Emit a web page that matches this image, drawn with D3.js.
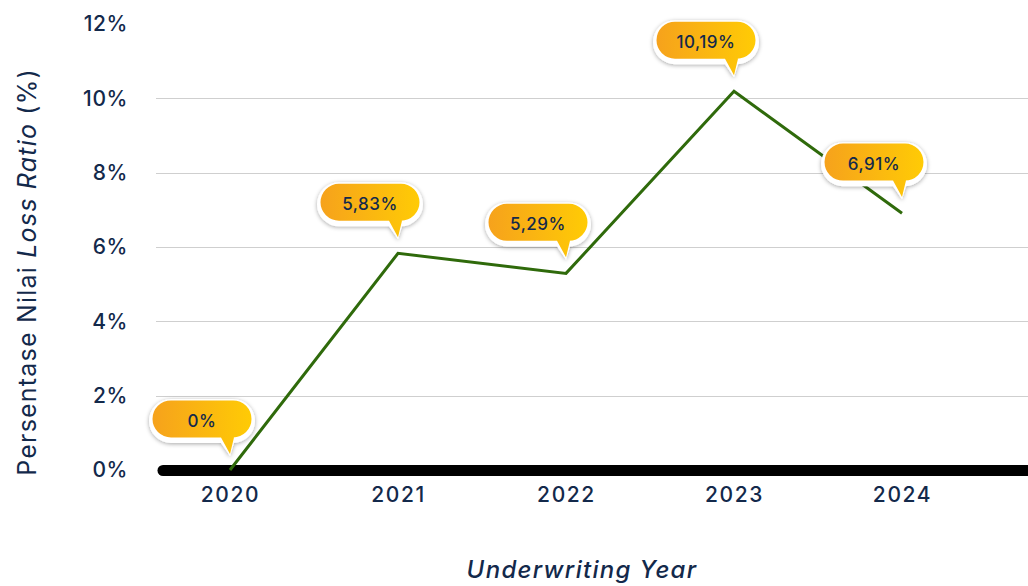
<!DOCTYPE html>
<html>
<head>
<meta charset="utf-8">
<script src="https://cdn.jsdelivr.net/npm/d3@7/dist/d3.min.js"></script>
<style>
  html, body { margin: 0; padding: 0; background: #fff; }
  svg { display: block; font-family: Inter, "Open Sans", sans-serif; }
</style>
</head>
<body>
<svg id="chart" width="1028" height="586"></svg>
<script>
// Loss ratio per underwriting year
const years = ["2020", "2021", "2022", "2023", "2024"];
const lossRatio = [0, 5.83, 5.29, 10.19, 6.91];
const valueLabels = ["0%", "5,83%", "5,29%", "10,19%", "6,91%"];
const yTicks = [0, 2, 4, 6, 8, 10, 12];

const W = 1028, H = 586;
const navy = "#13294b";
const svg = d3.select("#chart");

const x = d3.scalePoint().domain(years).range([146, 986]).padding(0.5);
const y = d3.scaleLinear().domain([0, 12]).range([470, 24]);

// gradient + shadow for the callouts
const defs = svg.append("defs");
const grad = defs.append("linearGradient").attr("id", "calloutFill")
  .attr("x1", "0%").attr("x2", "100%").attr("y1", "0%").attr("y2", "0%");
grad.append("stop").attr("offset", "0%").attr("stop-color", "#f6a21c");
grad.append("stop").attr("offset", "100%").attr("stop-color", "#ffcb05");
const sh = defs.append("filter").attr("id", "calloutShadow")
  .attr("x", "-20%").attr("y", "-30%").attr("width", "140%").attr("height", "170%");
sh.append("feDropShadow").attr("dx", 0).attr("dy", 1).attr("stdDeviation", 2.2)
  .attr("flood-color", "#000").attr("flood-opacity", 0.35);

// horizontal gridlines
svg.append("g").selectAll("line")
  .data(yTicks.filter(d => d > 0 && d < 12))
  .join("line")
  .attr("x1", 156).attr("x2", W)
  .attr("y1", d => Math.round(y(d)) + 0.5).attr("y2", d => Math.round(y(d)) + 0.5)
  .attr("stroke", "#cfcfcf").attr("stroke-width", 1);

// y axis labels
const yAxis = svg.append("g").attr("transform", "translate(128,0)")
  .call(d3.axisLeft(y).tickValues(yTicks).tickFormat(d => d + "%").tickSize(0).tickPadding(0));
yAxis.select(".domain").remove();
yAxis.selectAll("text")
  .attr("font-family", "Inter, sans-serif")
  .attr("font-size", 21).attr("font-weight", 500).attr("fill", navy)
  .attr("letter-spacing", 0.6);

// baseline
svg.append("line")
  .attr("x1", 163).attr("x2", W + 10)
  .attr("y1", y(0) + 0.5).attr("y2", y(0) + 0.5)
  .attr("stroke", "#000").attr("stroke-width", 11).attr("stroke-linecap", "round");

// x axis labels
const xAxis = svg.append("g").attr("transform", `translate(0,${y(0) + 17})`)
  .call(d3.axisBottom(x).tickSize(0).tickPadding(0));
xAxis.select(".domain").remove();
xAxis.selectAll("text")
  .attr("dy", "0.71em")
  .attr("font-family", "Inter, sans-serif")
  .attr("font-size", 21).attr("font-weight", 500).attr("fill", navy)
  .attr("letter-spacing", 1.6);

// the line
const pts = years.map((yr, i) => ({ year: yr, v: lossRatio[i], label: valueLabels[i] }));
svg.append("path")
  .datum(pts)
  .attr("fill", "none").attr("stroke", "#2f6a0b").attr("stroke-width", 3)
  .attr("d", d3.line().x(d => x(d.year)).y(d => y(d.v)));

// callouts
const bw = 106, bh = 44, r = 22, offX = 28, gap = 14, tailH = 13, tailW = 9;
function calloutPath(px, py, inset) {
  const tipY = py - gap - inset * 0.6;
  const bottom = tipY - tailH;
  const cx = px - offX;
  const l = cx - bw / 2 + inset, rt = cx + bw / 2 - inset;
  const t = bottom - bh + inset, b = bottom - inset;
  const rr = r - inset;
  const tx = px;
  return `M${l + rr},${t} H${rt - rr} A${rr},${rr} 0 0 1 ${rt - rr},${b}`
    + ` H${tx + 4} L${tx},${tipY} L${tx - tailW},${b}`
    + ` H${l + rr} A${rr},${rr} 0 0 1 ${l + rr},${t} Z`;
}
const cg = svg.append("g").selectAll("g").data(pts).join("g");
cg.append("path")
  .attr("d", d => calloutPath(x(d.year), y(d.v), 0))
  .attr("fill", "#ffffff").attr("filter", "url(#calloutShadow)");
cg.append("path")
  .attr("d", d => calloutPath(x(d.year), y(d.v), 3.5))
  .attr("fill", "url(#calloutFill)");
cg.append("text")
  .attr("x", d => x(d.year) - offX)
  .attr("y", d => y(d.v) - gap - tailH - bh / 2)
  .attr("dy", "0.35em")
  .attr("text-anchor", "middle")
  .attr("font-size", 17).attr("font-weight", 500).attr("fill", navy)
  .attr("letter-spacing", 0.5)
  .text(d => d.label);

// axis titles
const yt = svg.append("text")
  .attr("transform", "translate(36,272) rotate(-90)")
  .attr("text-anchor", "middle")
  .attr("font-size", 25).attr("fill", navy)
  .attr("letter-spacing", 1.2);
yt.append("tspan").text("Persentase Nilai ");
yt.append("tspan").attr("font-style", "italic").text("Loss Ratio");
yt.append("tspan").text(" (%)");

svg.append("text")
  .attr("x", 582).attr("y", 578)
  .attr("text-anchor", "middle")
  .attr("font-size", 24).attr("font-weight", 500).attr("font-style", "italic").attr("fill", navy)
  .attr("letter-spacing", 1.3)
  .text("Underwriting Year");
</script>
</body>
</html>
